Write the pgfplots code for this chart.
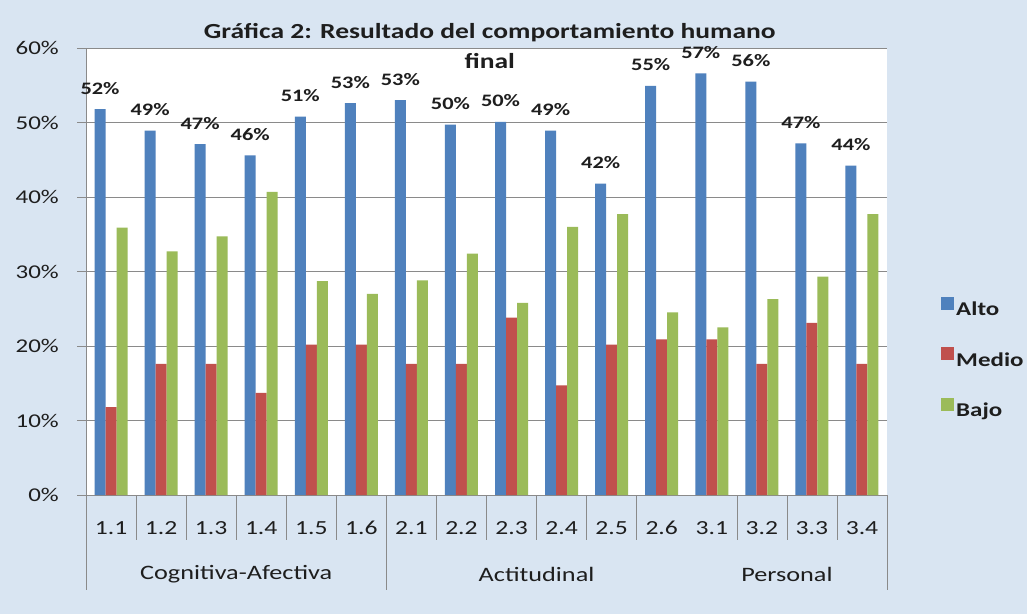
\documentclass[border=0pt]{standalone}
\usepackage{fontspec}
\setmainfont{Carlito}[FakeStretch=1.28]
\usepackage{pgfplots}
\usepackage{pgfplotstable}
\pgfplotsset{compat=1.18}
\definecolor{bgblue}{HTML}{D9E5F2}
\definecolor{cAlto}{HTML}{4F81BD}
\definecolor{cMedio}{HTML}{C0504D}
\definecolor{cBajo}{HTML}{9BBB59}
\definecolor{gridc}{HTML}{8A8A8A}
\definecolor{txt}{HTML}{1E1E1E}

\pgfplotstableread{
x alto medio bajo lab
0 51.8 11.8 35.9 52
1 48.9 17.6 32.7 49
2 47.1 17.6 34.7 47
3 45.6 13.7 40.7 46
4 50.8 20.2 28.7 51
5 52.6 20.2 27.0 53
6 53.0 17.6 28.8 53
7 49.7 17.6 32.4 50
8 50.1 23.8 25.8 50
9 48.9 14.7 36.0 49
10 41.8 20.2 37.7 42
11 54.9 20.9 24.5 55
12 56.6 20.9 22.5 57
13 55.5 17.6 26.3 56
14 47.2 23.1 29.3 47
15 44.2 17.6 37.7 44
}\data

\begin{document}
\begin{tikzpicture}
\clip (0,0) rectangle (1027pt,614pt);
\fill[bgblue] (0,0) rectangle (1027pt,614pt);
\begin{axis}[
  at={(86pt,119pt)}, anchor=south west,
  scale only axis, width=801pt, height=447pt,
  xmin=-0.5, xmax=15.5, ymin=0, ymax=60,
  clip=false,
  ybar=0pt, bar width=11pt,
  axis background/.style={fill=white},
  axis lines*=left,
  axis line style={gridc, line width=0.8pt},
  ytick={0,10,...,60},
  yticklabels={0\%,10\%,20\%,30\%,40\%,50\%,60\%},
  ymajorgrids, major grid style={gridc, line width=0.8pt},
  xtick={0,...,15},
  xticklabels={1.1,1.2,1.3,1.4,1.5,1.6,2.1,2.2,2.3,2.4,2.5,2.6,3.1,3.2,3.3,3.4},
  x tick style={draw=none},
  y tick style={gridc, line width=0.8pt},
  tick align=outside, major tick length=9pt,
  yticklabel style={anchor=east, inner sep=0pt, xshift=-18pt, text=txt,
    font=\fontsize{19.5pt}{22pt}\selectfont},
  xticklabel style={anchor=base, inner sep=0pt, yshift=-30pt, text=txt,
    font=\fontsize{20pt}{22pt}\selectfont},
  title={Gráfica 2: Resultado del comportamiento humano\\final},
  title style={at={(0.504,1)}, anchor=center, align=center, text=txt, yshift=-4pt,
    font=\bfseries\fontsize{21.5pt}{30pt}\selectfont},
  legend style={at={(1.0637,0.4487)}, anchor=north west, draw=none, fill=none,
    font=\bfseries\fontsize{19.5pt}{22pt}\selectfont, text=txt, row sep=28pt},
  legend cell align=left,
]
\addplot[fill=cAlto, draw=none,
  legend image code/.code={\fill[cAlto] (0pt,0pt) rectangle (13pt,13pt);},
  nodes near coords={\pgfplotspointmeta\%}, point meta=explicit symbolic,
  every node near coord/.append style={font=\bfseries\fontsize{17.5pt}{20pt}\selectfont,
    text=txt, anchor=base, yshift=15pt, inner sep=0pt}]
  table[x=x, y=alto, meta=lab] {\data};
\addlegendentry{Alto}
\addplot[fill=cMedio, draw=none,
  legend image code/.code={\fill[cMedio] (0pt,0pt) rectangle (13pt,13pt);}]
  table[x=x, y=medio] {\data};
\addlegendentry{Medio}
\addplot[fill=cBajo, draw=none,
  legend image code/.code={\fill[cBajo] (0pt,0pt) rectangle (13pt,13pt);}]
  table[x=x, y=bajo] {\data};
\addlegendentry{Bajo}
\pgfplotsinvokeforeach{0.5,1.5,2.5,3.5,4.5,6.5,7.5,8.5,9.5,10.5,12.5,13.5,14.5}{
  \draw[gridc, line width=0.6pt] (axis cs:#1,0) -- ++(0pt,-45pt);
}
\pgfplotsinvokeforeach{-0.5,5.5,15.5}{
  \draw[gridc, line width=0.8pt] (axis cs:#1,0) -- ++(0pt,-95pt);
}
\node[font=\fontsize{20.5pt}{24pt}\selectfont, text=txt, yshift=-79pt] at (axis cs:2.5,0) {Cognitiva-Afectiva};
\node[font=\fontsize{20.5pt}{24pt}\selectfont, text=txt, yshift=-79pt] at (axis cs:8.5,0) {Actitudinal};
\node[font=\fontsize{20.5pt}{24pt}\selectfont, text=txt, yshift=-79pt] at (axis cs:13.5,0) {Personal};
\end{axis}
\end{tikzpicture}
\end{document}
